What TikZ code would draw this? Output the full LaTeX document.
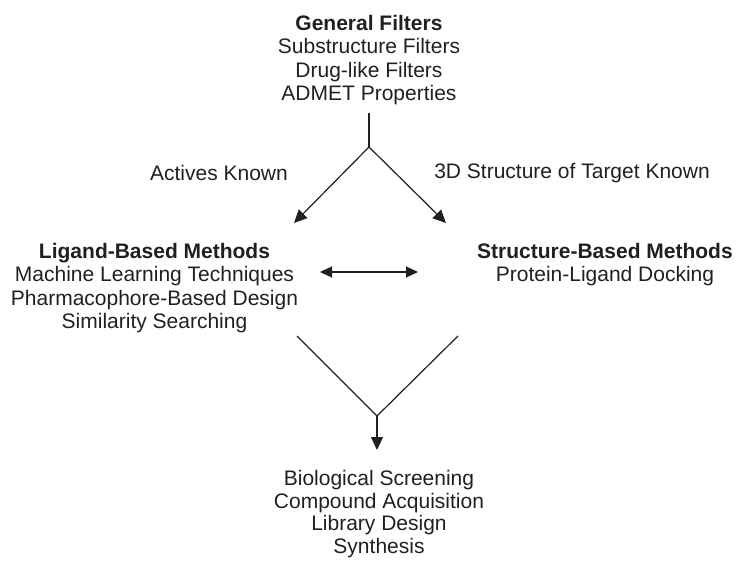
\documentclass[tikz,border=0pt]{standalone}
\usepackage{fontspec}
\setmainfont{Liberation Sans}
\usetikzlibrary{arrows.meta}
\definecolor{cink}{HTML}{231F20}
\tikzset{
  every picture/.style={line width=1.2pt, draw=cink, text=cink},
  block/.style={align=center, anchor=north, inner sep=0pt, font=\fontsize{21}{23.5}\selectfont},
  label/.style={inner sep=0pt, font=\fontsize{21}{23.5}\selectfont},
  arrow/.style={-{Triangle[length=13pt, width=12pt]}, draw=cink},
  twoway/.style={{Triangle[length=12pt, width=11pt]}-{Triangle[length=12pt, width=11pt]}, draw=cink},
}

\begin{document}
\begin{tikzpicture}[x=1pt, y=-1pt]
  \useasboundingbox (0,0) rectangle (737,562);
  \node[block] (gen) at (369,14.5) {\textbf{General Filters}\\Substructure Filters\\Drug-like Filters\\ADMET Properties};
  \node[block] (lig) at (154.5,242.5) {\textbf{Ligand-Based Methods}\\Machine Learning Techniques\\Pharmacophore-Based Design\\Similarity Searching};
  \node[block] (str) at (605,242.5) {\textbf{Structure-Based Methods}\\Protein-Ligand Docking};
  \node[block, font=\fontsize{21}{22.5}\selectfont] (out) at (379,470) {Biological Screening\\Compound Acquisition\\Library Design\\Synthesis};
  % branch labels
  \node[label] (act) at (219,173) {Actives Known};
  \node[label] (tgt) at (572,173) {3D Structure of Target Known};
  % split
  \coordinate (split) at (369,147);
  \coordinate (ligin) at (294,223);
  \coordinate (strin) at (446,223);
  \draw (369,113) coordinate (gout) -- (split);
  \draw[arrow] (split) -- (ligin);
  \draw[arrow] (split) -- (strin);
  % exchange
  \coordinate (xl) at (320,272);
  \coordinate (xr) at (418,272);
  \draw[twoway] (xl) -- (xr);
  % merge
  \coordinate (ligout) at (297,336);
  \coordinate (strout) at (458,336);
  \coordinate (merge) at (377,416);
  \coordinate (outin) at (377,450);
  \draw (ligout) -- (merge) -- (strout);
  \draw[arrow] (merge) -- (outin);
\end{tikzpicture}
\end{document}
